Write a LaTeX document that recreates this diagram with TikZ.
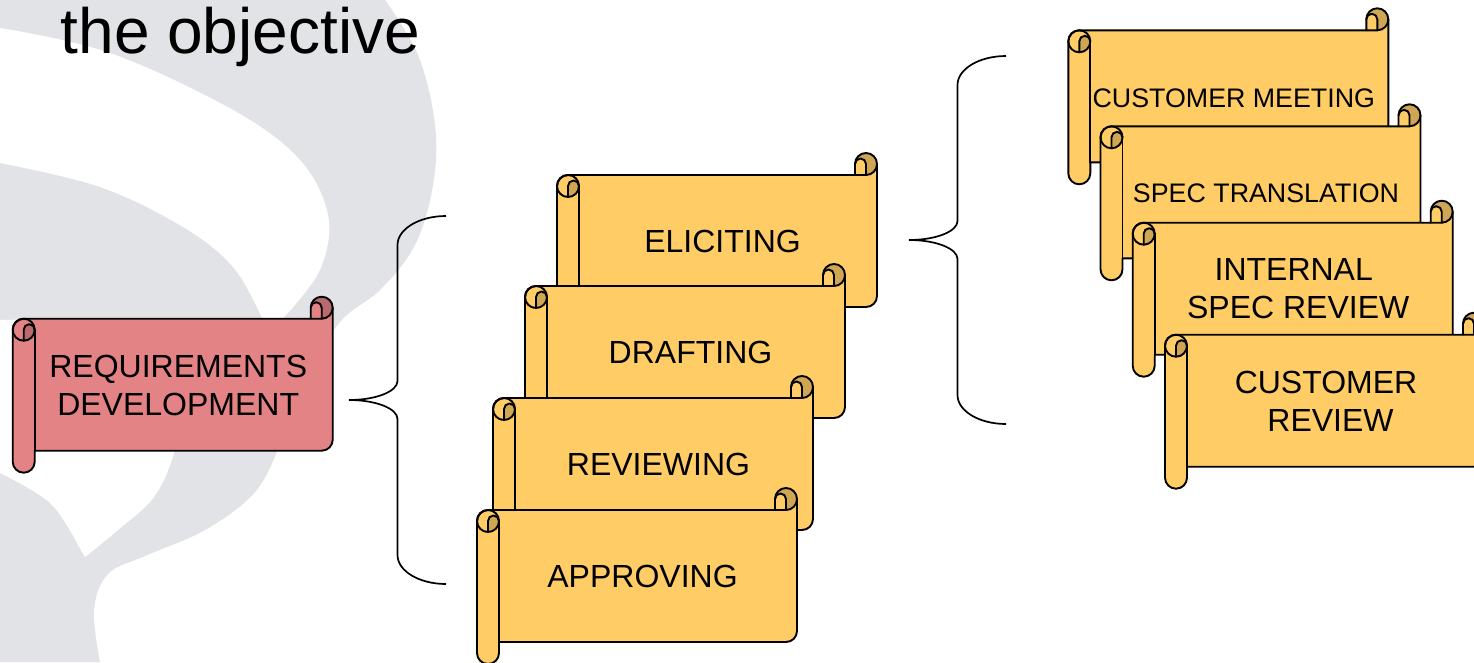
\documentclass[tikz,border=0pt]{standalone}
\usepackage{fontspec}
\setmainfont{Liberation Sans}
\definecolor{scrollfill}{RGB}{255,204,102}
\definecolor{scrolldark}{RGB}{207,166,84}
\definecolor{reqfill}{RGB}{227,131,133}
\definecolor{reqdark}{RGB}{185,106,108}
\definecolor{wmgrey}{RGB}{226,227,231}
\tikzset{
  scrollline/.style={draw=black, line width=1.9pt, line join=round, line cap=round},
  bracestyle/.style={draw=black, line width=1.7pt},
  lbl/.style={font=\fontsize{32}{38}\selectfont, align=center, inner sep=0pt},
  lblsmall/.style={font=\fontsize{26.8}{32}\selectfont, align=center, inner sep=0pt},
  titlestyle/.style={font=\fontsize{64}{70}\selectfont, inner sep=0pt}
}
\newcommand\drawscroll[4]{%
\begin{scope}[shift={(#1,#2)}]
 \fill[#3] (0,33) arc[start angle=180,end angle=270,radius=11] -- (298,22) -- (298,11)
   arc[start angle=180,end angle=360,radius=11] -- (320,143)
   arc[start angle=0,end angle=90,radius=11] -- (22,154) -- (22,165)
   arc[start angle=0,end angle=180,radius=11] -- cycle;
 \fill[#4] (309,11) circle[radius=11];
 \fill[#3] (298,22) -- (298,11) arc[start angle=180,end angle=360,radius=5.5] -- (309,22) -- cycle;
 \fill[#4] (11,44) -- (11,33) arc[start angle=180,end angle=360,radius=5.5]
   arc[start angle=0,end angle=90,radius=11] -- cycle;
 \draw[scrollline] (0,33) arc[start angle=180,end angle=270,radius=11] -- (298,22) -- (298,11)
   arc[start angle=180,end angle=360,radius=11] -- (320,143)
   arc[start angle=0,end angle=90,radius=11] -- (22,154) -- (22,165)
   arc[start angle=0,end angle=180,radius=11] -- cycle;
 \draw[scrollline] (11,33) circle[radius=11];
 \draw[scrollline] (11,44) -- (11,33) arc[start angle=180,end angle=360,radius=5.5];
 \draw[scrollline] (22,33) -- (22,154);
 \draw[scrollline] (298,22) -- (309,22) arc[start angle=90,end angle=0,radius=11];
 \draw[scrollline] (309,22) -- (309,11) arc[start angle=0,end angle=-180,radius=5.5];
\end{scope}}
\begin{document}
\begin{tikzpicture}[x=1pt,y=-1pt]
\fill[white] (0,0) rectangle (1474,662);
\useasboundingbox (0,0) rectangle (1474,662);
% watermark
\fill[wmgrey] (0,0) -- plot[smooth, tension=0.6] coordinates {(385,0) (418,55) (435,125) (433,185) (415,245) (380,290) (340,322) (305,380) (282,440) (255,492) (205,530) (145,556) (108,574) (94,610) (100,662)} -- (0,662) -- cycle;
\fill[white] plot[smooth, tension=0.6] coordinates {(0,28) (110,53) (233,110) (300,160) (328,215) (322,265) (295,305) (270,330)} -- plot[smooth, tension=0.6] coordinates {(262,318) (233,267) (183,227) (100,187) (0,163)} -- cycle;
\fill[white] (0,320) -- plot[smooth, tension=0.6] coordinates {(0,320) (120,330) (182,400) (174,453) (154,497) (118,530) (85,557)} -- plot[smooth, tension=0.6] coordinates {(78,545) (50,503) (0,473)} -- cycle;
% title
\node[titlestyle, anchor=base west] (title) at (60.5,53.3) {the objective};
% left scroll
\drawscroll{12.7}{296.7}{reqfill}{reqdark}
\node[lbl] (req) at (178.2,385) {REQUIREMENTS\\DEVELOPMENT};
% middle stack
\drawscroll{557}{153}{scrollfill}{scrolldark}
\node[lbl] (elic) at (722.5,241.5) {ELICITING};
\drawscroll{525}{264}{scrollfill}{scrolldark}
\node[lbl] (draft) at (690.5,352.5) {DRAFTING};
\drawscroll{493}{376}{scrollfill}{scrolldark}
\node[lbl] (rev) at (658.5,464.5) {REVIEWING};
\drawscroll{477}{488}{scrollfill}{scrolldark}
\node[lbl] (appr) at (642.5,576.5) {APPROVING};
% right stack
\drawscroll{1068.3}{8.3}{scrollfill}{scrolldark}
\node[lblsmall] (cm) at (1233.8,98) {CUSTOMER MEETING};
\drawscroll{1100.5}{104.3}{scrollfill}{scrolldark}
\node[lblsmall] (st) at (1266,193.5) {SPEC TRANSLATION};
\drawscroll{1132.7}{200.7}{scrollfill}{scrolldark}
\node[lbl] (isr) at (1298.2,289) {INTERNAL\kern0.28em\\SPEC REVIEW};
\drawscroll{1165}{312.7}{scrollfill}{scrolldark}
\node[lbl] (cr) at (1330.5,401.5) {CUSTOMER\kern0.28em\\REVIEW};
% braces
\coordinate (b1top) at (446,216);
\coordinate (b1tip) at (349,400);
\coordinate (b1bot) at (446,584);
\draw[bracestyle] (b1top) .. controls (419.2,216) and (397.5,229) .. (397.5,245) -- (397.5,381)
  .. controls (397.5,391.5) and (375.8,400) .. (b1tip)
  .. controls (375.8,400) and (397.5,408.5) .. (397.5,419) -- (397.5,555)
  .. controls (397.5,571) and (419.2,584) .. (b1bot);
\coordinate (b2top) at (1006,56);
\coordinate (b2tip) at (909,240);
\coordinate (b2bot) at (1006,424);
\draw[bracestyle] (b2top) .. controls (979.2,56) and (957.5,69) .. (957.5,85) -- (957.5,221)
  .. controls (957.5,231.5) and (935.8,240) .. (b2tip)
  .. controls (935.8,240) and (957.5,248.5) .. (957.5,259) -- (957.5,395)
  .. controls (957.5,411) and (979.2,424) .. (b2bot);
\end{tikzpicture}
\end{document}
